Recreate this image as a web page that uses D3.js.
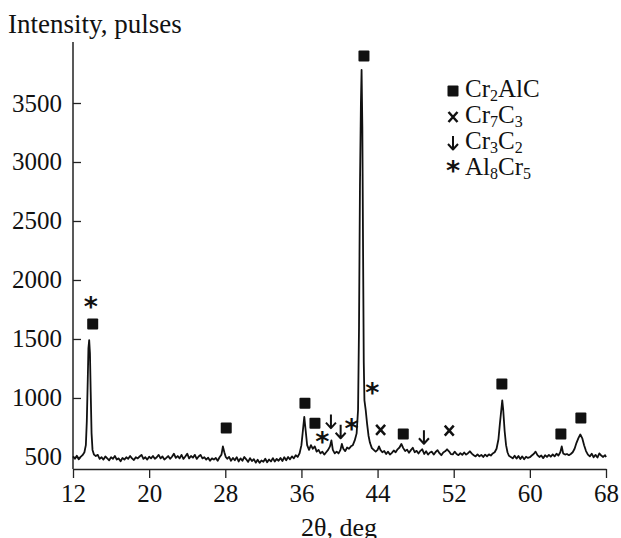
<!DOCTYPE html>
<html><head><meta charset="utf-8">
<script src="https://cdn.jsdelivr.net/npm/d3@7"></script>
<style>body{margin:0;background:#fff}svg{display:block}</style>
</head><body>
<script>
// ---- data ----
const twoTheta = [12.0,12.2,12.4,12.6,12.8,13.0,13.2,13.35,13.45,13.55,13.62,13.7,13.78,13.86,13.95,14.05,14.2,14.4,14.6,14.8,15.0,15.2,15.4,15.6,15.8,16.0,16.2,16.4,16.6,16.8,17.0,17.2,17.4,17.6,17.8,18.0,18.2,18.4,18.6,18.8,19.0,19.2,19.4,19.6,19.8,20.0,20.2,20.4,20.6,20.8,21.0,21.2,21.4,21.6,21.8,22.0,22.2,22.4,22.6,22.8,23.0,23.2,23.4,23.6,23.8,24.0,24.2,24.4,24.6,24.8,25.0,25.2,25.4,25.6,25.8,26.0,26.2,26.4,26.6,26.8,27.0,27.2,27.4,27.6,27.75,27.9,28.05,28.2,28.4,28.6,28.8,29.0,29.2,29.4,29.6,29.8,30.0,30.2,30.4,30.6,30.8,31.0,31.2,31.4,31.6,31.8,32.0,32.2,32.4,32.6,32.8,33.0,33.2,33.4,33.6,33.8,34.0,34.2,34.4,34.6,34.8,35.0,35.2,35.4,35.6,35.8,36.0,36.15,36.3,36.45,36.6,36.8,37.0,37.2,37.4,37.6,37.8,38.0,38.2,38.4,38.6,38.8,39.0,39.15,39.3,39.5,39.7,39.9,40.1,40.25,40.4,40.6,40.8,41.0,41.2,41.4,41.6,41.8,41.95,42.05,42.15,42.25,42.32,42.4,42.48,42.55,42.62,42.75,42.9,43.05,43.2,43.4,43.6,43.8,44.0,44.15,44.3,44.5,44.7,44.9,45.1,45.3,45.5,45.7,45.9,46.1,46.3,46.5,46.7,46.9,47.1,47.3,47.5,47.7,47.9,48.1,48.3,48.5,48.7,48.9,49.1,49.3,49.5,49.7,49.9,50.1,50.3,50.5,50.7,50.9,51.1,51.3,51.5,51.7,51.9,52.1,52.3,52.5,52.7,52.9,53.1,53.3,53.5,53.7,53.9,54.1,54.3,54.5,54.7,54.9,55.1,55.3,55.5,55.7,55.9,56.1,56.3,56.5,56.7,56.85,57.0,57.1,57.2,57.35,57.5,57.65,57.8,58.0,58.2,58.4,58.6,58.8,59.0,59.2,59.4,59.6,59.8,60.0,60.2,60.4,60.6,60.8,61.0,61.2,61.4,61.6,61.8,62.0,62.2,62.4,62.6,62.8,63.0,63.2,63.35,63.5,63.7,63.9,64.1,64.3,64.5,64.7,64.9,65.1,65.3,65.5,65.7,65.9,66.1,66.3,66.5,66.7,66.9,67.1,67.3,67.5,67.7,67.9,68.0];
const intensity = [
  505,485,510,480,500,515,540,
  600,800,1150,1420,1490,1380,1050,700,560,520,
  508,518,484,498,478,504,488,472,498,484,
  508,478,488,464,492,478,498,484,508,488,
  474,498,488,504,518,484,498,478,502,488,
  508,484,498,518,488,504,478,492,508,484,
  502,528,492,508,488,518,484,504,528,488,
  508,494,518,484,504,518,488,498,478,494,
  468,488,478,492,468,498,
  520,590,540,500,485,
  500,468,492,472,498,462,488,468,500,480,
  458,490,465,482,452,476,450,470,460,485,
  455,478,462,490,462,484,468,492,466,498,
  472,500,480,505,488,515,500,530,
  600,720,840,720,600,560,600,570,590,545,560,530,545,520,540,560,590,640,560,530,545,530,560,610,570,550,580,570,590,600,640,700,
  900,1600,2800,3500,3780,3300,2200,1300,980,900,780,680,620,575,560,545,560,590,560,
  540,550,525,545,520,535,555,540,565,580,610,575,550,562,535,558,578,540,552,530,552,565,525,548,520,538,545,520,542,558,532,515,538,548,565,548,525,522,545,525,515,532,518,538,520,532,548,528,515,505,522,505,518,500,520,506,522,512,530,
  540,570,650,780,900,980,900,720,600,540,510,
  500,488,510,486,508,482,505,480,502,492,498,512,
  525,545,515,500,512,490,515,500,518,502,522,505,528,512,
  540,590,530,520,525,515,525,540,570,620,660,690,660,600,550,
  520,505,528,498,518,495,530,512,500,515,498];

const xTicks = [12,20,28,36,44,52,60,68];
const yTicks = [500,1000,1500,2000,2500,3000,3500];

// phase markers: type, 2θ, intensity level
const markerType  = ["sq","star","sq","sq","sq","star","arrow","arrow","star","sq","star","x","sq","arrow","x","sq","sq","sq"];
const markerTheta = [14.07,13.86,28.1,36.37,37.42,38.19,39.1,40.12,41.27,42.57,43.44,44.32,46.7,48.87,51.53,57.06,63.26,65.36];
const markerValue = [1627,1788,746,955,785,644,800,714,757,3898,1059,729,695,667,723,1119,695,830];

const legendType = ["sq","x","arrow","star"];
const legendLabels = [
  [["Cr",0],["2",1],["AlC",0]],
  [["Cr",0],["7",1],["C",0],["3",1]],
  [["Cr",0],["3",1],["C",0],["2",1]],
  [["Al",0],["8",1],["Cr",0],["5",1]]
];

// ---- layout ----
const W = 621, H = 538;
const mLeft = 73, mRight = 606, mTop = 42, mBottom = 469;
const svg = d3.select("body").append("svg").attr("width", W).attr("height", H);
const font = "'Liberation Serif','Times New Roman',serif";

const x = d3.scaleLinear().domain([12, 68]).range([mLeft, mRight]);
const y = d3.scaleLinear().domain([398, 4017]).range([mBottom, mTop]);

// axes
const gx = svg.append("g").attr("transform", `translate(0,${mBottom})`)
  .call(d3.axisBottom(x).tickValues(xTicks).tickSizeInner(9).tickSizeOuter(0).tickPadding(6).tickFormat(d3.format("d")));
const gy = svg.append("g").attr("transform", `translate(${mLeft},0)`)
  .call(d3.axisLeft(y).tickValues(yTicks).tickSizeInner(-8).tickSizeOuter(0).tickPadding(11).tickFormat(d3.format("d")));
[gx, gy].forEach(g => {
  g.selectAll("path.domain").attr("stroke", "#222").attr("stroke-width", 1.5);
  g.selectAll(".tick line").attr("stroke", "#222").attr("stroke-width", 1.3);
  g.selectAll("text").attr("font-family", font).attr("font-size", 25).attr("fill", "#111");
});
gy.select("path.domain").attr("d", `M0,${mBottom}V${mTop}`);

svg.append("text").attr("x", 8).attr("y", 33).attr("font-family", font).attr("font-size", 27).attr("fill", "#111").text("Intensity, pulses");
svg.append("text").attr("x", 339).attr("y", 536).attr("text-anchor", "middle")
  .attr("font-family", font).attr("font-size", 26).attr("fill", "#111").text("2θ, deg");

// curve
const pts = twoTheta.map((t, i) => [t, intensity[i]]);
svg.append("path").datum(pts)
  .attr("fill", "none").attr("stroke", "#111").attr("stroke-width", 1.8).attr("stroke-linejoin", "round")
  .attr("d", d3.line().x(d => x(d[0])).y(d => y(d[1])));

// marker drawing
function drawMarker(g, type, cx, cy) {
  if (type === "sq") {
    g.append("rect").attr("x", cx - 5.5).attr("y", cy - 5.5).attr("width", 11).attr("height", 11).attr("rx", 1).attr("fill", "#111");
  } else if (type === "x") {
    g.append("path").attr("d", `M${cx-4.5},${cy-5}L${cx+4.5},${cy+5}M${cx+4.5},${cy-5}L${cx-4.5},${cy+5}`)
      .attr("stroke", "#111").attr("stroke-width", 2.5).attr("fill", "none");
  } else if (type === "arrow") {
    g.append("path").attr("d", `M${cx},${cy-7}V${cy+6}M${cx-5},${cy+1}L${cx},${cy+6.5}L${cx+5},${cy+1}`)
      .attr("stroke", "#111").attr("stroke-width", 2).attr("fill", "none").attr("stroke-linejoin", "round");
  } else if (type === "star") {
    g.append("text").attr("x", cx).attr("y", cy + 11).attr("text-anchor", "middle")
      .attr("font-family", "'DejaVu Sans',sans-serif").attr("font-weight", "bold").attr("font-size", 27).attr("fill", "#111").text("*");
  }
}
const gm = svg.append("g");
markerType.forEach((t, i) => drawMarker(gm, t, x(markerTheta[i]), y(markerValue[i])));

// legend
const gl = svg.append("g");
legendType.forEach((t, i) => {
  const cy = 91 + i * 26;
  drawMarker(gl, t, 453, cy);
  const tx = gl.append("text").attr("x", 465).attr("y", cy + 6).attr("font-family", font).attr("font-size", 25).attr("fill", "#111");
  let shift = 0;
  legendLabels[i].forEach(([s, sub]) => {
    const ts = tx.append("tspan").text(s);
    const want = sub ? 4 : 0;
    if (want !== shift) { ts.attr("dy", want - shift); shift = want; }
    if (sub) ts.attr("font-size", 16);
  });
});
</script>
</body></html>
